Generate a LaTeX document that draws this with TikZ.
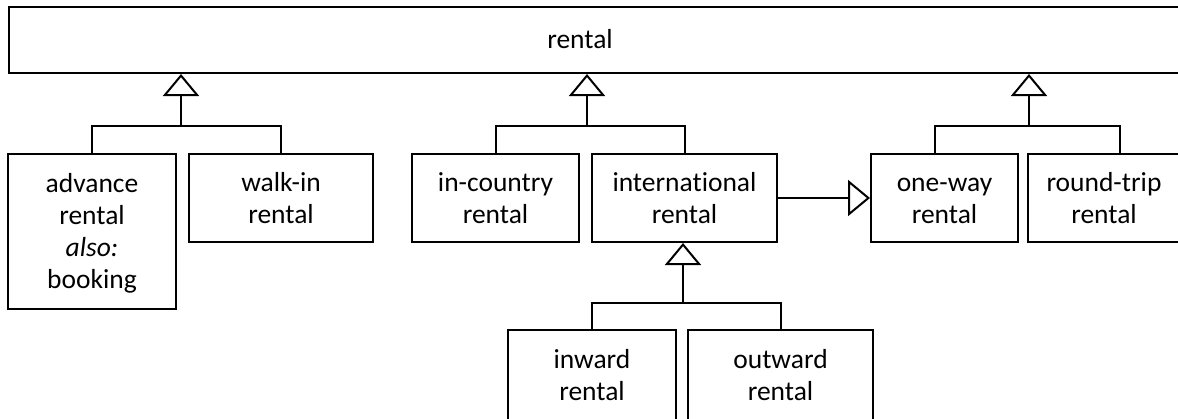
\documentclass[tikz,border=0pt]{standalone}
\usepackage{fontspec}
\setmainfont{Carlito}[Ligatures=NoCommon]
\usetikzlibrary{arrows.meta, positioning}
\newcommand{\topstrut}{\rule{0pt}{25pt}}
\newcommand{\botstrut}{\rule[-7pt]{0pt}{7pt}}

\begin{document}
\begin{tikzpicture}[x=1pt, y=-1pt, line width=2pt,
		box/.style={draw, rectangle, inner sep=0pt, align=center, font=\fontsize{27.5}{32}\selectfont},
		gen/.style={-{Triangle[open, length=22pt, width=36pt]}}]
	\clip (0,0) rectangle (1178,418);
	% top class
	\node[draw, rectangle, inner sep=0pt, anchor=north west, minimum width=1190pt, minimum height=66pt] at (8,6) (rental) {};
	\node[font=\fontsize{27.5}{32}\selectfont] at (580,39) (rentaltext) {rental};
	% subclasses
	\node[box, minimum width=168pt, minimum height=155pt] at (92,231.5) (adv) {\topstrut advance\\rental\\\textit{also:}\\booking\botstrut};
	\node[box, minimum width=184pt, minimum height=88pt] at (281,198) (walk) {\topstrut walk-in\\rental\botstrut};
	\node[box, minimum width=167pt, minimum height=88pt] at (495.5,198) (incountry) {\topstrut in-country\\rental\botstrut};
	\node[box, minimum width=185pt, minimum height=88pt] at (684.5,198) (intl) {\topstrut international\\rental\botstrut};
	\node[box, minimum width=147pt, minimum height=88pt] at (944.5,198) (oneway) {\topstrut one-way\\rental\botstrut};
	\node[box, minimum width=152pt, minimum height=88pt] at (1104,198) (roundtrip) {\topstrut round-trip\\rental\botstrut};
	\node[box, minimum width=168pt, minimum height=90pt] at (592,375) (inward) {\topstrut inward\\rental\botstrut};
	\node[box, minimum width=185pt, minimum height=90pt] at (780.5,375) (outward) {\topstrut outward\\rental\botstrut};
	
	% generalisation trees
	\coordinate (g1) at (181,126);
	\coordinate (g2) at (587,126);
	\coordinate (g3) at (1029,126);
	\coordinate (g4) at (683,303);
	
	\draw (adv.north) |- (g1) -| (walk.north);
	\draw (incountry.north) |- (g2) -| (intl.north);
	\draw ([xshift=-9.5pt]oneway.north) |- (g3) -| ([xshift=16pt]roundtrip.north);
	\draw (inward.north) |- (g4) -| (outward.north);
	
	\draw[gen] (g1) -- (g1 |- rental.south);
	\draw[gen] (g2) -- (g2 |- rental.south);
	\draw[gen] (g3) -- (g3 |- rental.south);
	\draw[gen] (g4) -- (g4 |- intl.south);
	\draw[gen] (intl.east) -- (oneway.west);
\end{tikzpicture}
\end{document}
